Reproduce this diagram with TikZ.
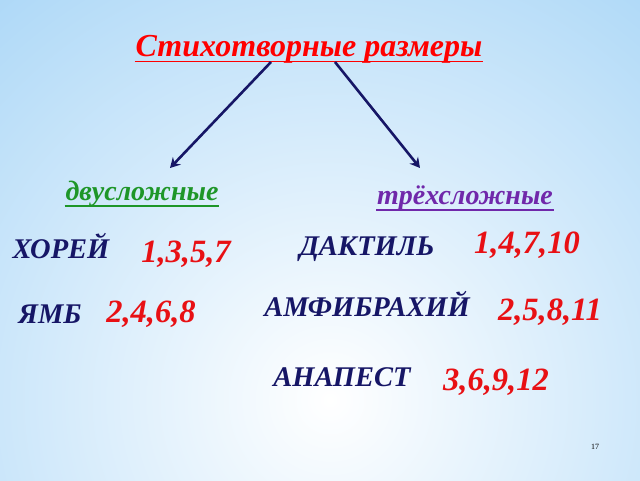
\documentclass[tikz,border=0pt]{standalone}
\usepackage{fontspec}
\setmainfont{Liberation Serif}
\usepackage{tikz}
\usetikzlibrary{arrows.meta}
\definecolor{navy}{RGB}{22,22,102}
\definecolor{numred}{RGB}{232,16,20}
\definecolor{dvgreen}{RGB}{30,150,40}
\definecolor{trpurple}{RGB}{112,40,170}
\definecolor{bgblue}{RGB}{150,205,245}

\tikzset{
  metr/.style={anchor=base,inner sep=0.75pt,text=navy,font=\fontsize{28.5}{28.5}\selectfont\bfseries\itshape},
  stopy/.style={anchor=base,inner sep=0.75pt,text=numred,font=\fontsize{32.5}{32.5}\selectfont\bfseries\itshape},
  vid/.style={anchor=base,inner sep=0.75pt,font=\fontsize{28}{28}\selectfont\bfseries\itshape},
  strelka/.style={draw=navy,line width=2.6pt,-{Stealth[length=10pt,width=11pt,inset=3.5pt]}}
}

\begin{document}
\begin{tikzpicture}[x=1pt,y=1pt,yscale=1,xscale=1]
\useasboundingbox (0,0) rectangle (640,480);
% background
\begin{scope}
\clip (0,0) rectangle (640,480);
\shade[inner color=white,outer color=bgblue] (330,80) circle (680);
\end{scope}

% title
\node (titul) at (309,423) [anchor=base,inner sep=0.75pt,text=red,font=\fontsize{32}{32}\selectfont\bfseries\itshape] {Стихотворные размеры};
\draw [red,line width=1.5pt] ([yshift=-4.5pt]titul.base west) -- ([yshift=-4.5pt]titul.base east);

\coordinate (a1) at (271,418);
\coordinate (a2) at (335,418);
\coordinate (b1) at (170,312);
\coordinate (b2) at (420,312);
\draw [strelka] (a1) -- (b1);
\draw [strelka] (a2) -- (b2);

% groups
\node (dvu) at (142,279) [vid,text=dvgreen] {двусложные};
\draw [dvgreen,line width=1.3pt] ([yshift=-5pt]dvu.base west) -- ([yshift=-5pt]dvu.base east);
\node (tre) at (465,275) [vid,text=trpurple] {трёхсложные};
\draw [trpurple,line width=1.3pt] ([yshift=-5pt]tre.base west) -- ([yshift=-5pt]tre.base east);

% meters
\node (horei) at (61,222) [metr] {ХОРЕЙ};
\node (n1) at (186,218) [stopy] {1,3,5,7};
\node (yamb) at (50,157) [metr] {ЯМБ};
\node (n2) at (151,158) [stopy] {2,4,6,8};
\node (daktil) at (367,224) [metr] {ДАКТИЛЬ};
\node (n3) at (527,226) [stopy] {1,4,7,10};
\node (amfi) at (367,164) [metr] {АМФИБРАХИЙ};
\node (n4) at (550,160) [stopy] {2,5,8,11};
\node (anap) at (342,94) [metr] {АНАПЕСТ};
\node (n5) at (496,90) [stopy] {3,6,9,12};

\node (nomer) at (595,31) [anchor=base,inner sep=0.75pt,font=\fontsize{8}{8}\selectfont] {17};
\end{tikzpicture}
\end{document}
